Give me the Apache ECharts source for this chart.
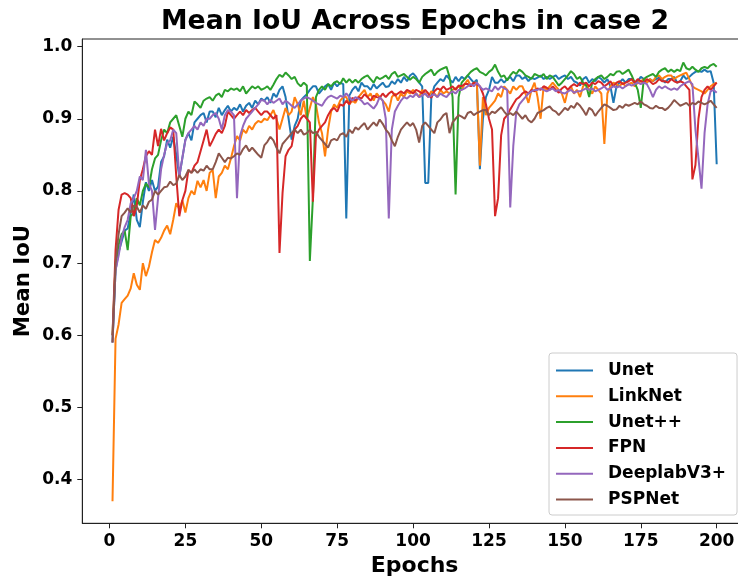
<!DOCTYPE html>
<html>
<head>
<meta charset="utf-8">
<script src="https://cdn.jsdelivr.net/npm/echarts@6/dist/echarts.min.js"></script>
<style>
html,body{margin:0;padding:0;background:#fff;}
#chart{width:738px;height:582px;}
</style>
</head>
<body>
<div id="chart"></div>
<script>
const seriesNames = ['Unet', 'LinkNet', 'Unet++', 'FPN', 'DeeplabV3+', 'PSPNet'];
const xTicks = [0, 25, 50, 75, 100, 125, 150, 175, 200];
const yTicks = [0.4, 0.5, 0.6, 0.7, 0.8, 0.9, 1.0];

const unet = [
0.590,0.690,0.715,0.730,0.745,0.748,0.770,0.795,0.760,0.750,
0.785,0.812,0.800,0.815,0.800,0.806,0.840,0.848,0.871,0.860,
0.875,0.850,0.820,0.845,0.871,0.880,0.870,0.895,0.900,0.905,
0.908,0.895,0.910,0.910,0.902,0.915,0.905,0.912,0.918,0.910,
0.915,0.912,0.920,0.910,0.918,0.922,0.915,0.925,0.920,0.928,
0.925,0.930,0.922,0.935,0.930,0.940,0.945,0.930,0.900,0.871,
0.890,0.900,0.925,0.930,0.934,0.940,0.945,0.945,0.935,0.940,
0.945,0.948,0.940,0.950,0.945,0.950,0.948,0.762,0.932,0.940,
0.945,0.938,0.950,0.945,0.945,0.940,0.948,0.942,0.946,0.950,
0.944,0.945,0.952,0.948,0.955,0.950,0.958,0.952,0.960,0.963,
0.958,0.950,0.945,0.811,0.811,0.930,0.945,0.950,0.955,0.952,
0.960,0.955,0.950,0.958,0.952,0.958,0.955,0.960,0.955,0.950,
0.954,0.830,0.900,0.930,0.940,0.958,0.950,0.950,0.955,0.950,
0.955,0.958,0.952,0.960,0.960,0.955,0.958,0.952,0.957,0.955,
0.957,0.960,0.955,0.958,0.955,0.958,0.960,0.955,0.958,0.960,
0.955,0.958,0.952,0.950,0.946,0.955,0.958,0.950,0.955,0.952,
0.958,0.955,0.950,0.955,0.945,0.922,0.945,0.950,0.955,0.950,
0.955,0.955,0.950,0.952,0.958,0.955,0.950,0.955,0.952,0.955,
0.957,0.955,0.950,0.955,0.955,0.958,0.950,0.952,0.960,0.955,
0.958,0.962,0.965,0.966,0.965,0.968,0.965,0.966,0.950,0.837
];
const linknet = [
0.370,0.595,0.615,0.645,0.650,0.655,0.665,0.686,0.670,0.663,
0.700,0.682,0.695,0.715,0.732,0.728,0.735,0.745,0.752,0.740,
0.760,0.783,0.775,0.787,0.770,0.790,0.800,0.795,0.814,0.805,
0.815,0.800,0.825,0.829,0.790,0.820,0.825,0.835,0.830,0.845,
0.862,0.876,0.870,0.885,0.880,0.890,0.885,0.893,0.897,0.895,
0.900,0.898,0.905,0.912,0.900,0.885,0.900,0.915,0.905,0.910,
0.930,0.920,0.905,0.925,0.900,0.915,0.930,0.920,0.895,0.880,
0.848,0.885,0.910,0.920,0.915,0.925,0.930,0.930,0.920,0.925,
0.922,0.930,0.935,0.940,0.930,0.935,0.925,0.935,0.930,0.925,
0.920,0.910,0.930,0.935,0.925,0.935,0.930,0.938,0.935,0.940,
0.935,0.930,0.940,0.935,0.930,0.938,0.935,0.930,0.940,0.935,
0.938,0.935,0.940,0.942,0.945,0.940,0.948,0.954,0.945,0.950,
0.950,0.835,0.930,0.905,0.915,0.920,0.925,0.935,0.930,0.945,
0.940,0.935,0.945,0.940,0.945,0.945,0.935,0.922,0.940,0.950,
0.930,0.900,0.945,0.940,0.945,0.950,0.945,0.940,0.935,0.922,
0.940,0.945,0.935,0.940,0.930,0.945,0.950,0.940,0.935,0.945,
0.940,0.935,0.865,0.935,0.945,0.950,0.948,0.945,0.950,0.945,
0.948,0.950,0.945,0.950,0.952,0.955,0.950,0.955,0.952,0.958,
0.960,0.955,0.958,0.960,0.960,0.955,0.958,0.960,0.962,0.964,
0.955,0.945,0.942,0.940,0.938,0.935,0.940,0.945,0.948,0.950
];
const unetpp = [
0.600,0.700,0.725,0.740,0.745,0.718,0.765,0.770,0.790,0.780,
0.800,0.810,0.805,0.830,0.845,0.850,0.870,0.885,0.880,0.895,
0.900,0.905,0.890,0.875,0.900,0.910,0.905,0.924,0.920,0.915,
0.925,0.928,0.930,0.925,0.932,0.935,0.930,0.940,0.938,0.942,
0.940,0.942,0.938,0.945,0.935,0.940,0.945,0.942,0.945,0.940,
0.942,0.945,0.940,0.947,0.955,0.961,0.958,0.964,0.960,0.955,
0.958,0.949,0.945,0.950,0.946,0.703,0.790,0.930,0.940,0.945,
0.940,0.948,0.945,0.950,0.952,0.948,0.956,0.950,0.955,0.950,
0.954,0.950,0.955,0.958,0.960,0.955,0.950,0.958,0.955,0.957,
0.960,0.955,0.962,0.965,0.958,0.960,0.962,0.958,0.954,0.958,
0.955,0.950,0.958,0.962,0.965,0.968,0.960,0.965,0.968,0.970,
0.972,0.958,0.930,0.795,0.930,0.950,0.955,0.960,0.965,0.968,
0.970,0.965,0.963,0.960,0.965,0.968,0.975,0.965,0.958,0.960,
0.953,0.960,0.965,0.962,0.968,0.965,0.960,0.958,0.955,0.962,
0.960,0.958,0.962,0.955,0.960,0.958,0.952,0.946,0.950,0.955,
0.960,0.966,0.962,0.955,0.958,0.950,0.946,0.930,0.950,0.955,
0.958,0.960,0.955,0.958,0.962,0.960,0.965,0.966,0.962,0.965,
0.968,0.960,0.950,0.940,0.915,0.955,0.958,0.960,0.962,0.958,
0.965,0.968,0.970,0.965,0.968,0.965,0.968,0.966,0.978,0.970,
0.968,0.972,0.968,0.965,0.970,0.972,0.970,0.974,0.976,0.972
];
const fpn = [
0.600,0.718,0.774,0.795,0.797,0.795,0.790,0.765,0.780,0.815,
0.830,0.848,0.855,0.850,0.885,0.862,0.886,0.870,0.880,0.888,
0.885,0.820,0.765,0.787,0.800,0.829,0.825,0.835,0.840,0.855,
0.870,0.885,0.862,0.870,0.879,0.885,0.880,0.890,0.910,0.905,
0.900,0.905,0.910,0.905,0.912,0.908,0.912,0.915,0.910,0.905,
0.910,0.910,0.905,0.900,0.905,0.714,0.797,0.848,0.857,0.862,
0.885,0.890,0.900,0.905,0.900,0.895,0.785,0.876,0.885,0.890,
0.895,0.905,0.912,0.915,0.910,0.920,0.918,0.925,0.920,0.929,
0.925,0.930,0.928,0.934,0.930,0.925,0.932,0.930,0.929,0.935,
0.930,0.935,0.938,0.932,0.935,0.938,0.935,0.940,0.938,0.935,
0.940,0.938,0.935,0.940,0.935,0.929,0.938,0.942,0.940,0.945,
0.940,0.942,0.945,0.940,0.946,0.945,0.948,0.948,0.945,0.950,
0.948,0.945,0.935,0.920,0.900,0.885,0.765,0.790,0.877,0.900,
0.905,0.913,0.920,0.927,0.930,0.935,0.938,0.935,0.940,0.938,
0.942,0.940,0.945,0.943,0.940,0.945,0.940,0.936,0.942,0.945,
0.940,0.945,0.948,0.945,0.950,0.948,0.950,0.945,0.950,0.948,
0.952,0.950,0.945,0.948,0.952,0.945,0.950,0.952,0.948,0.950,
0.952,0.955,0.950,0.955,0.952,0.950,0.955,0.952,0.948,0.950,
0.955,0.952,0.952,0.950,0.955,0.952,0.950,0.952,0.950,0.945,
0.940,0.816,0.836,0.900,0.930,0.940,0.945,0.940,0.945,0.950
];
const deeplab = [
0.590,0.690,0.710,0.735,0.750,0.760,0.783,0.790,0.800,0.820,
0.815,0.857,0.810,0.800,0.746,0.790,0.830,0.850,0.866,0.870,
0.885,0.880,0.820,0.846,0.870,0.880,0.885,0.890,0.885,0.895,
0.890,0.900,0.900,0.905,0.908,0.900,0.885,0.905,0.912,0.910,
0.905,0.790,0.876,0.890,0.900,0.905,0.910,0.915,0.920,0.926,
0.925,0.920,0.926,0.922,0.925,0.928,0.920,0.925,0.922,0.918,
0.915,0.920,0.925,0.928,0.930,0.928,0.925,0.922,0.920,0.918,
0.925,0.930,0.932,0.930,0.928,0.932,0.930,0.935,0.930,0.925,
0.930,0.928,0.925,0.920,0.922,0.918,0.914,0.920,0.930,0.925,
0.900,0.762,0.885,0.910,0.918,0.925,0.930,0.928,0.932,0.930,
0.935,0.930,0.932,0.935,0.930,0.932,0.934,0.930,0.935,0.932,
0.930,0.935,0.938,0.935,0.940,0.940,0.942,0.945,0.948,0.945,
0.950,0.945,0.940,0.942,0.940,0.938,0.945,0.940,0.945,0.942,
0.940,0.777,0.862,0.910,0.920,0.925,0.930,0.935,0.938,0.940,
0.940,0.942,0.940,0.938,0.940,0.942,0.938,0.940,0.936,0.935,
0.938,0.940,0.936,0.938,0.938,0.940,0.942,0.940,0.942,0.938,
0.940,0.942,0.945,0.940,0.942,0.945,0.943,0.945,0.942,0.945,
0.948,0.946,0.948,0.950,0.948,0.950,0.948,0.940,0.930,0.940,
0.945,0.942,0.945,0.942,0.940,0.942,0.940,0.945,0.948,0.950,
0.952,0.948,0.885,0.845,0.803,0.880,0.920,0.938,0.940,0.936
];
const pspnet = [
0.590,0.700,0.740,0.765,0.770,0.776,0.770,0.780,0.778,0.770,
0.780,0.775,0.785,0.788,0.800,0.795,0.800,0.805,0.806,0.813,
0.808,0.810,0.822,0.815,0.820,0.829,0.825,0.830,0.825,0.830,
0.828,0.835,0.830,0.830,0.840,0.852,0.846,0.840,0.846,0.845,
0.848,0.852,0.850,0.858,0.863,0.855,0.860,0.855,0.850,0.846,
0.863,0.868,0.875,0.870,0.860,0.852,0.865,0.870,0.875,0.880,
0.885,0.880,0.885,0.878,0.880,0.885,0.880,0.882,0.875,0.870,
0.865,0.860,0.870,0.872,0.870,0.878,0.880,0.875,0.885,0.880,
0.888,0.885,0.890,0.894,0.885,0.890,0.895,0.890,0.899,0.893,
0.885,0.880,0.870,0.862,0.875,0.885,0.890,0.895,0.890,0.894,
0.885,0.867,0.890,0.895,0.890,0.885,0.880,0.895,0.899,0.905,
0.908,0.880,0.895,0.900,0.905,0.903,0.900,0.908,0.910,0.905,
0.908,0.910,0.912,0.912,0.905,0.910,0.908,0.912,0.916,0.910,
0.905,0.908,0.905,0.910,0.905,0.900,0.905,0.898,0.895,0.900,
0.908,0.910,0.912,0.915,0.917,0.912,0.910,0.905,0.910,0.915,
0.912,0.918,0.915,0.922,0.918,0.912,0.905,0.915,0.912,0.904,
0.910,0.915,0.920,0.918,0.915,0.912,0.913,0.918,0.915,0.920,
0.918,0.920,0.922,0.920,0.924,0.920,0.918,0.915,0.914,0.918,
0.915,0.915,0.912,0.915,0.920,0.926,0.922,0.918,0.920,0.922,
0.918,0.922,0.920,0.924,0.922,0.920,0.922,0.925,0.920,0.915
];

const allValues = [unet, linknet, unetpp, fpn, deeplab, pspnet];
const colors = ['#1f77b4', '#ff7f0e', '#2ca02c', '#d62728', '#9467bd', '#8c564b'];
const epochs = unet.map((_, i) => i + 1);

const FONT = 'DejaVu Sans';
const chart = echarts.init(document.getElementById('chart'), null, {renderer: 'canvas'});

const series = seriesNames.map((name, k) => ({
  name: name,
  type: 'line',
  data: allValues[k].map((v, i) => [epochs[i], v]),
  symbol: 'none',
  showSymbol: false,
  lineStyle: {width: 2, color: colors[k]},
  itemStyle: {color: colors[k]},
  emphasis: {disabled: true},
  z: 2 + k
}));

chart.setOption({
  animation: false,
  backgroundColor: '#fff',
  title: {
    text: 'Mean IoU Across Epochs in case 2',
    left: 161,
    top: 9,
    padding: 0,
    textStyle: {fontFamily: FONT, fontWeight: 'bold', fontSize: 26.7, color: '#000'}
  },
  grid: {
    left: 82.3, top: 39, width: 664.6, height: 484.3,
    outerBoundsMode: 'none',
    show: true, borderColor: '#222', borderWidth: 1, backgroundColor: 'transparent',
    containLabel: false
  },
  legend: {
    orient: 'vertical',
    left: 549, top: 353,
    padding: [9, 11, 7, 6],
    itemWidth: 37, itemHeight: 20, itemGap: 8.8,
    itemStyle: {opacity: 0},
    backgroundColor: 'rgba(255,255,255,0.8)',
    borderColor: '#cccccc', borderWidth: 1, borderRadius: 3,
    textStyle: {fontFamily: FONT, fontWeight: 'bold', fontSize: 17, color: '#000', padding: [0, 0, 0, 10]},
    data: seriesNames
  },
  xAxis: {
    type: 'value',
    min: -8.95, max: 209.95,
    name: 'Epochs', nameLocation: 'middle', nameGap: 32,
    nameTextStyle: {fontFamily: FONT, fontWeight: 'bold', fontSize: 22, color: '#000'},
    axisLine: {show: true, onZero: false, lineStyle: {color: '#222', width: 1}},
    axisTick: {show: true, length: 5, lineStyle: {color: '#222'}, customValues: xTicks},
    axisLabel: {show: true, margin: 10, fontFamily: FONT, fontWeight: 'bold', fontSize: 17, color: '#000',
      customValues: xTicks, formatter: v => String(Math.round(v))},
    splitLine: {show: false}
  },
  yAxis: {
    type: 'value',
    min: 0.3395, max: 1.0105,
    name: 'Mean IoU', nameLocation: 'middle', nameGap: 48, nameRotate: 90,
    nameMoveOverlap: false,
    nameTextStyle: {fontFamily: FONT, fontWeight: 'bold', fontSize: 21.3, color: '#000'},
    axisLine: {show: true, onZero: false, lineStyle: {color: '#222', width: 1}},
    axisTick: {show: true, length: 5, lineStyle: {color: '#222'}, customValues: yTicks},
    axisLabel: {show: true, margin: 10, fontFamily: FONT, fontWeight: 'bold', fontSize: 17, color: '#000',
      customValues: yTicks, formatter: v => v.toFixed(1)},
    splitLine: {show: false}
  },
  series: series
});
</script>
</body>
</html>
